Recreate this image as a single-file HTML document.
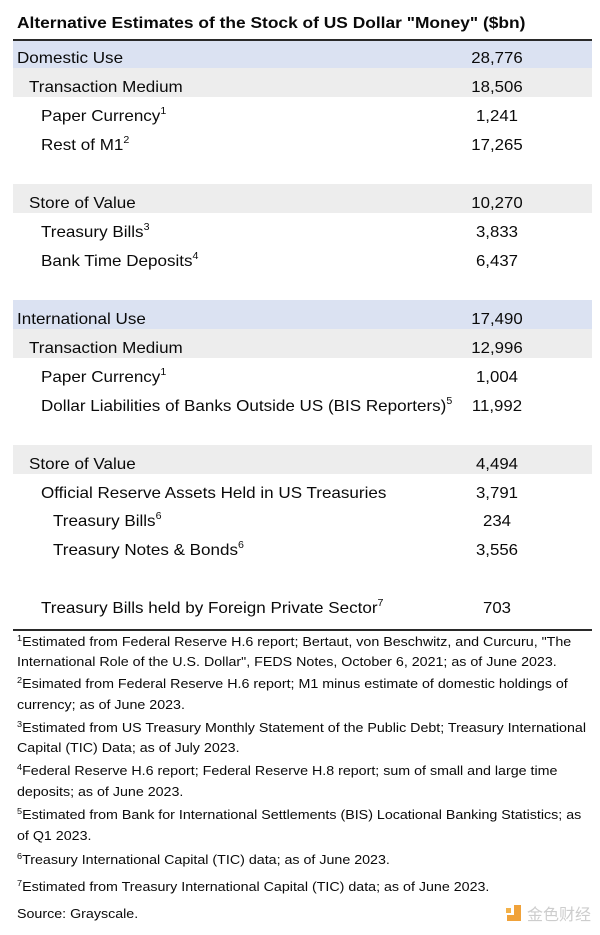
<!DOCTYPE html>
<html>
<head>
<meta charset="utf-8">
<style>
  html,body{margin:0;padding:0;background:#fff;}
  body{width:600px;height:935px;position:relative;overflow:hidden;
       font-family:"Liberation Sans",Arial,sans-serif;color:#0a0a0a;}
  .a{position:absolute;}
  .band{position:absolute;left:12.7px;width:579px;height:28.96px;}
  .blue{background:#dbe2f2;}
  .gray{background:#ededed;}
  .rule{position:absolute;left:12.7px;width:579px;background:#2a2a2a;}
  .t{position:absolute;white-space:nowrap;font-size:16px;line-height:16px;
     transform:scaleX(1.065);transform-origin:0 0;}
  .n{position:absolute;left:437px;width:120px;text-align:center;white-space:nowrap;
     font-size:16px;line-height:16px;transform:scaleX(1.05);transform-origin:50% 0;}
  .t sup{font-size:10px;line-height:0;position:relative;top:-1px;vertical-align:6px;}
  .title{position:absolute;left:17px;white-space:nowrap;font-weight:bold;font-size:15.5px;
     line-height:15.5px;transform:scaleX(1.12);transform-origin:0 0;}
  .f{position:absolute;left:17px;white-space:nowrap;font-size:12.5px;line-height:12.5px;
     transform:scaleX(1.14);transform-origin:0 0;}
  .f sup{font-size:8px;line-height:0;vertical-align:5px;}
  .wm{position:absolute;left:527px;top:902px;font-family:"Noto Sans CJK SC","WenQuanYi Zen Hei",sans-serif;
      font-size:16px;line-height:22px;color:#cdcdcd;white-space:nowrap;}
</style>
</head>
<body>

<div class="title" style="top:15.6px;">Alternative Estimates of the Stock of US Dollar "Money" ($bn)</div>

<!-- bands -->
<div class="band blue" style="top:41px;height:27.3px;"></div>
<div class="band gray" style="top:68.26px;"></div>
<div class="band gray" style="top:184.1px;"></div>
<div class="band blue" style="top:299.94px;"></div>
<div class="band gray" style="top:328.9px;"></div>
<div class="band gray" style="top:444.74px;"></div>

<!-- rules -->
<div class="rule" style="top:38.8px;height:2.5px;"></div>
<div class="rule" style="top:628.5px;height:2px;"></div>

<!-- rows -->
<div class="t" style="left:17px;top:51px;">Domestic Use</div>
<div class="n" style="top:51px;">28,776</div>

<div class="t" style="left:29px;top:80px;">Transaction Medium</div>
<div class="n" style="top:80px;">18,506</div>

<div class="t" style="left:41px;top:109px;">Paper Currency<sup>1</sup></div>
<div class="n" style="top:109px;">1,241</div>

<div class="t" style="left:41px;top:138px;">Rest of M1<sup>2</sup></div>
<div class="n" style="top:138px;">17,265</div>

<div class="t" style="left:29px;top:195.9px;">Store of Value</div>
<div class="n" style="top:195.9px;">10,270</div>

<div class="t" style="left:41px;top:224.8px;">Treasury Bills<sup>3</sup></div>
<div class="n" style="top:224.8px;">3,833</div>

<div class="t" style="left:41px;top:253.8px;">Bank Time Deposits<sup>4</sup></div>
<div class="n" style="top:253.8px;">6,437</div>

<div class="t" style="left:17px;top:311.7px;">International Use</div>
<div class="n" style="top:311.7px;">17,490</div>

<div class="t" style="left:29px;top:340.7px;">Transaction Medium</div>
<div class="n" style="top:340.7px;">12,996</div>

<div class="t" style="left:41px;top:369.6px;">Paper Currency<sup>1</sup></div>
<div class="n" style="top:369.6px;">1,004</div>

<div class="t" style="left:41px;top:398.6px;">Dollar Liabilities of Banks Outside US (BIS Reporters)<sup>5</sup></div>
<div class="n" style="top:398.6px;">11,992</div>

<div class="t" style="left:29px;top:456.5px;">Store of Value</div>
<div class="n" style="top:456.5px;">4,494</div>

<div class="t" style="left:41px;top:485.5px;">Official Reserve Assets Held in US Treasuries</div>
<div class="n" style="top:485.5px;">3,791</div>

<div class="t" style="left:53px;top:514.4px;">Treasury Bills<sup>6</sup></div>
<div class="n" style="top:514.4px;">234</div>

<div class="t" style="left:53px;top:543.4px;">Treasury Notes &amp; Bonds<sup>6</sup></div>
<div class="n" style="top:543.4px;">3,556</div>

<div class="t" style="left:41px;top:601.3px;">Treasury Bills held by Foreign Private Sector<sup>7</sup></div>
<div class="n" style="top:601.3px;">703</div>

<!-- footnotes -->
<div class="f" style="top:635.9px;"><sup>1</sup>Estimated from Federal Reserve H.6 report; Bertaut, von Beschwitz, and Curcuru, "The</div>
<div class="f" style="top:656.4px;">International Role of the U.S. Dollar", FEDS Notes, October 6, 2021; as of June 2023.</div>
<div class="f" style="top:678.4px;"><sup>2</sup>Esimated from Federal Reserve H.6 report; M1 minus estimate of domestic holdings of</div>
<div class="f" style="top:699.4px;">currency; as of June 2023.</div>
<div class="f" style="top:722.4px;"><sup>3</sup>Estimated from US Treasury Monthly Statement of the Public Debt; Treasury International</div>
<div class="f" style="top:741.9px;">Capital (TIC) Data; as of July 2023.</div>
<div class="f" style="top:765.4px;"><sup>4</sup>Federal Reserve H.6 report; Federal Reserve H.8 report; sum of small and large time</div>
<div class="f" style="top:785.9px;">deposits; as of June 2023.</div>
<div class="f" style="top:809.4px;"><sup>5</sup>Estimated from Bank for International Settlements (BIS) Locational Banking Statistics; as</div>
<div class="f" style="top:829.9px;">of Q1 2023.</div>
<div class="f" style="top:854.4px;"><sup>6</sup>Treasury International Capital (TIC) data; as of June 2023.</div>
<div class="f" style="top:881.4px;"><sup>7</sup>Estimated from Treasury International Capital (TIC) data; as of June 2023.</div>
<div class="f" style="top:908.4px;">Source: Grayscale.</div>

<!-- watermark -->
<svg class="a" style="left:506px;top:905px;" width="16" height="17" viewBox="0 0 16 17">
  <rect x="0" y="3" width="5" height="5" fill="#f3b24a"/>
  <rect x="8" y="0" width="7" height="16" fill="#f0a23a"/>
  <rect x="1" y="10" width="14" height="6" fill="#f0a23a"/>
</svg>
<div class="wm">金色财经</div>

</body>
</html>
